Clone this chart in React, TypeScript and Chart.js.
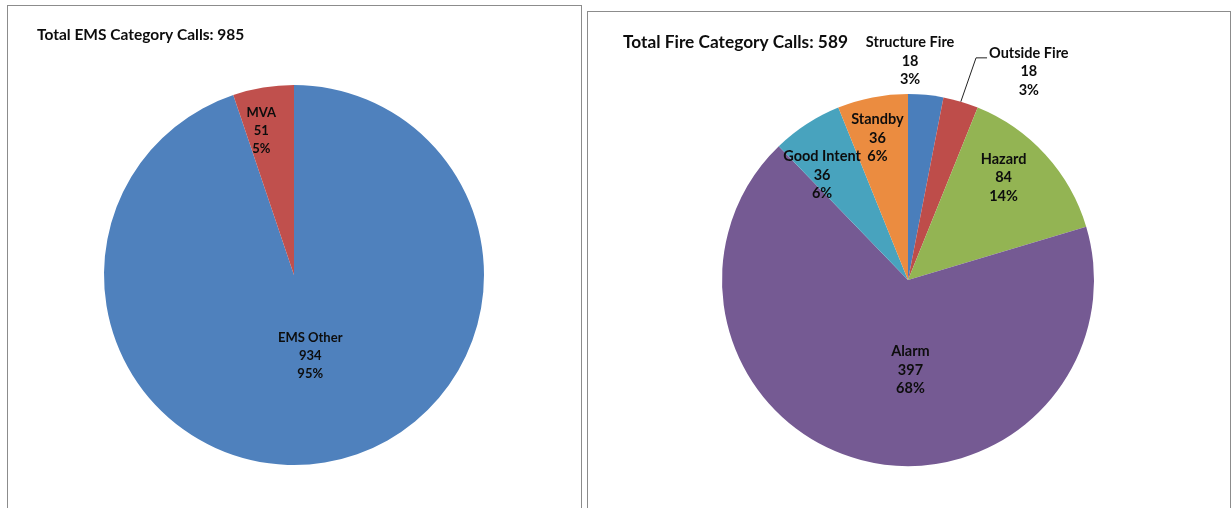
import React, { useEffect, useRef } from 'react';
import { Chart, registerables } from 'chart.js';

Chart.register(...registerables);

// ---------- Data ----------
const emsTitle = 'Total EMS Category Calls: 985';
const emsCategories = ['EMS Other', 'MVA'];
const emsValues = [934, 51];
const emsPercentLabels = ['95%', '5%'];

const fireTitle = 'Total Fire Category Calls: 589';
const fireCategories = ['Structure Fire', 'Outside Fire', 'Hazard', 'Alarm', 'Good Intent', 'Standby'];
const fireValues = [18, 18, 84, 397, 36, 36];
const firePercentLabels = ['3%', '3%', '14%', '68%', '6%', '6%'];

// ---------- Styles ----------
const emsColors = ['#4F81BD', '#C0504D'];
const fireColors = ['#4A7EBB', '#BE4D4A', '#93B453', '#755A93', '#48A3BE', '#EB8C40'];

// label placement per slice: [radius fraction, dx, dy]
const emsLabelPlacement = [
  [0.43, 3, 0],
  [0.77, -9, 0],
];
const fireLabelPlacement = [
  [1.183, -19, 0],
  [1.17, 59, 0],
  [0.753, -8, -8],
  [0.5, 26, 0],
  [0.73, -12, 9],
  [0.777, -3, 0],
];
const emsLeaders = [false, false];
const fireLeaders = [false, true, false, false, false, false];

type Cfg = {
  title: string;
  titleX: number;
  titleY: number;
  titleSize: number;
  labelSize: number;
  labels: string[];
  values: number[];
  pcts: string[];
  placement: number[][];
  leaders: boolean[];
  lineH: number;
};

function makeLabelPlugin(cfg: Cfg) {
  return {
    id: 'sliceLabels',
    afterDatasetsDraw(chart: any) {
      const ctx = chart.ctx as CanvasRenderingContext2D;
      ctx.save();
      ctx.fillStyle = '#0d0d0d';
      ctx.textAlign = 'left';
      ctx.textBaseline = 'middle';
      ctx.font = `bold ${cfg.titleSize}px Lato`;
      ctx.fillText(cfg.title, cfg.titleX, cfg.titleY);

      const meta = chart.getDatasetMeta(0);
      ctx.font = `bold ${cfg.labelSize}px Lato`;
      ctx.textAlign = 'center';
      ctx.strokeStyle = '#222';
      ctx.lineWidth = 1;
      meta.data.forEach((arc: any, i: number) => {
        const p = arc.getProps(['x', 'y', 'startAngle', 'endAngle', 'outerRadius'], true);
        const mid = (p.startAngle + p.endAngle) / 2;
        const [f, dx, dy] = cfg.placement[i];
        const cx = p.x + Math.cos(mid) * p.outerRadius * f + dx;
        const cy = p.y + Math.sin(mid) * p.outerRadius * f + dy;
        const lines = [cfg.labels[i], String(cfg.values[i]), cfg.pcts[i]];
        lines.forEach((t, k) => ctx.fillText(t, cx, cy + (k - 1) * cfg.lineH));
        if (cfg.leaders[i]) {
          const w = ctx.measureText(lines[0]).width;
          const tx = cx - w / 2 - 2;
          const ty = cy - cfg.lineH + 5;
          ctx.beginPath();
          ctx.moveTo(p.x + Math.cos(mid) * p.outerRadius, p.y + Math.sin(mid) * p.outerRadius);
          ctx.lineTo(tx - 11, ty);
          ctx.lineTo(tx, ty);
          ctx.stroke();
        }
      });
      ctx.restore();
    },
  };
}

type BoxProps = {
  left: number;
  top: number;
  width: number;
  canvasW: number;
  canvasH: number;
  padding: { top: number; bottom: number; left: number; right: number };
  cfg: Cfg;
  colors: string[];
};

function PieBox({ left, top, width, canvasW, canvasH, padding, cfg, colors }: BoxProps) {
  const ref = useRef<HTMLCanvasElement | null>(null);
  useEffect(() => {
    if (!ref.current) return;
    const chart = new Chart(ref.current, {
      type: 'pie',
      data: {
        labels: cfg.labels,
        datasets: [
          {
            data: cfg.values,
            backgroundColor: colors,
            borderWidth: 0,
            hoverOffset: 0,
            offset: 0,
          } as any,
        ],
      },
      options: {
        responsive: false,
        animation: false,
        layout: { padding },
        plugins: {
          legend: { display: false },
          tooltip: { enabled: false },
          title: { display: false },
        },
        events: [],
      },
      plugins: [makeLabelPlugin(cfg) as any],
    });
    return () => chart.destroy();
  }, []);
  return (
    <div
      style={{
        position: 'absolute',
        left,
        top,
        width,
        height: 560,
        boxSizing: 'border-box',
        border: '1px solid #8c8c8c',
        background: '#fff',
      }}
    >
      <canvas ref={ref} width={canvasW} height={canvasH} style={{ display: 'block' }} />
    </div>
  );
}

export default function App() {
  const emsCfg: Cfg = {
    title: emsTitle,
    titleX: 29,
    titleY: 29,
    titleSize: 15.5,
    labelSize: 13,
    labels: emsCategories,
    values: emsValues,
    pcts: emsPercentLabels,
    placement: emsLabelPlacement,
    leaders: emsLeaders,
    lineH: 18,
  };
  const fireCfg: Cfg = {
    title: fireTitle,
    titleX: 35,
    titleY: 30,
    titleSize: 17.3,
    labelSize: 14.5,
    labels: fireCategories,
    values: fireValues,
    pcts: firePercentLabels,
    placement: fireLabelPlacement,
    leaders: fireLeaders,
    lineH: 18.5,
  };
  return (
    <div style={{ position: 'fixed', left: 0, top: 0, width: 1231, height: 508, overflow: 'hidden', background: '#fff' }}>
      <PieBox
        left={7}
        top={5}
        width={575}
        canvasW={573}
        canvasH={502}
        padding={{ top: 79, bottom: 43, left: 0, right: 1 }}
        cfg={emsCfg}
        colors={emsColors}
      />
      <PieBox
        left={587}
        top={11}
        width={644}
        canvasW={642}
        canvasH={496}
        padding={{ top: 82, bottom: 42, left: 0, right: 2 }}
        cfg={fireCfg}
        colors={fireColors}
      />
    </div>
  );
}
